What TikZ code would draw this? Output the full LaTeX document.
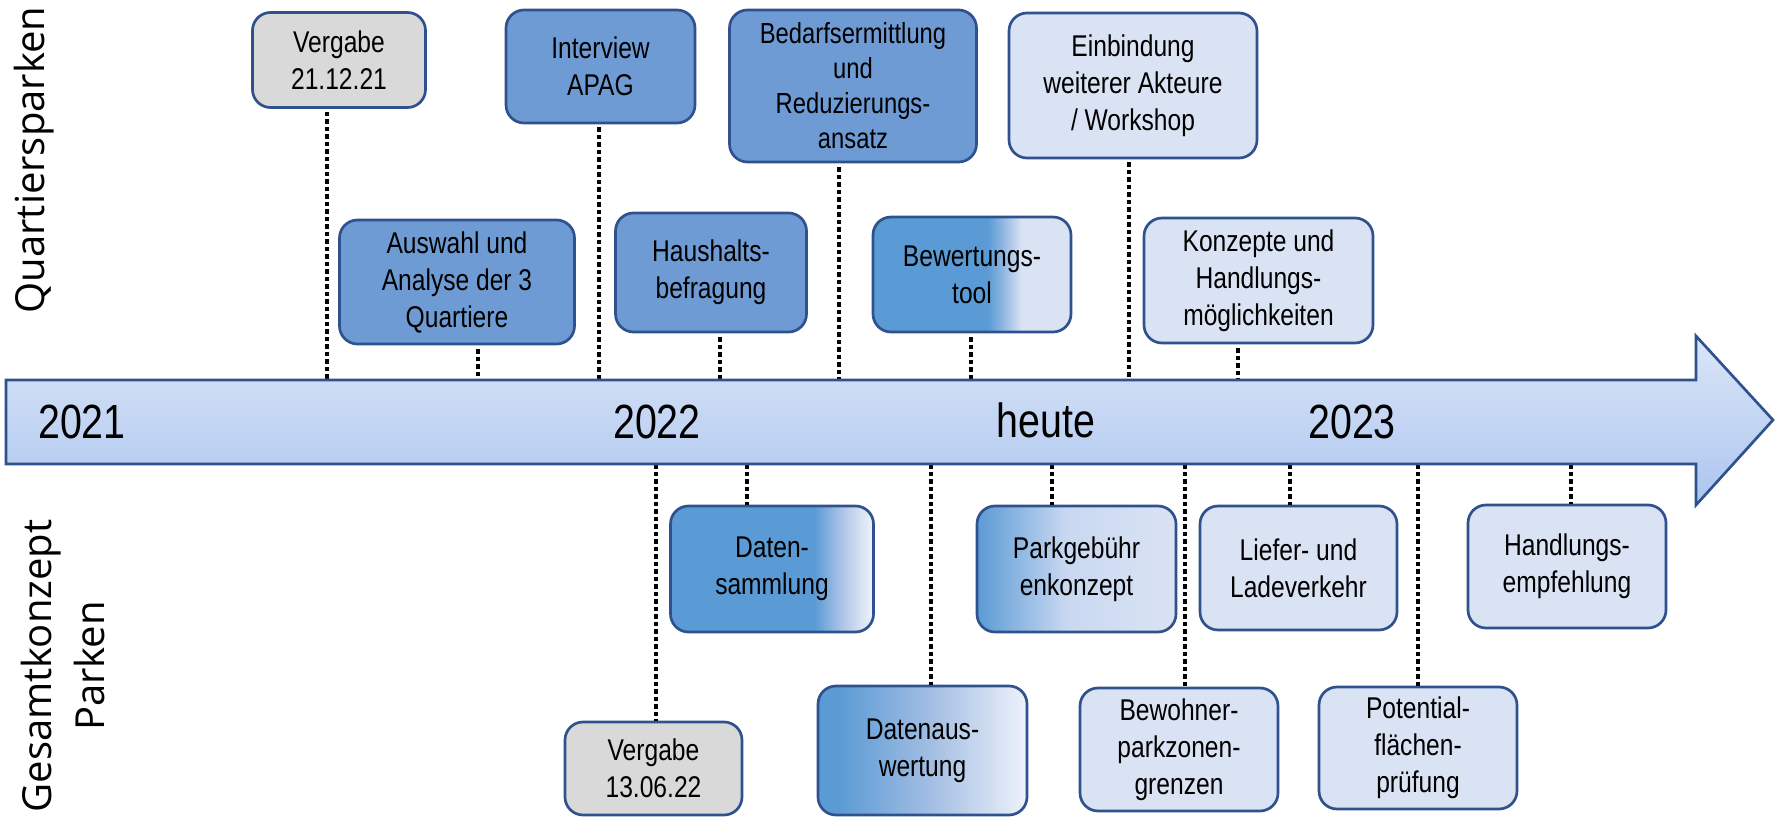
\documentclass[tikz,border=0pt]{standalone}
\usepackage{fontspec}
\setmainfont{Liberation Sans}[FakeStretch=0.82]
\newfontfamily\sidefont{Open Sans}
\definecolor{bdr}{HTML}{2F528F}
\definecolor{mblue}{HTML}{6E9BD3}
\definecolor{sblue}{HTML}{5B9BD5}
\definecolor{lblue}{HTML}{DAE3F3}
\definecolor{gbox}{HTML}{D9D9D9}
\definecolor{arrT}{HTML}{DBE6F7}
\definecolor{arrB}{HTML}{ACC5EF}
\definecolor{bewmid}{HTML}{93B8E2}
\definecolor{datmid}{HTML}{B0C6E8}
\definecolor{datend}{HTML}{F2F5FB}
\definecolor{dawmid}{HTML}{A5BFE3}
\definecolor{dawend}{HTML}{EEF2FA}
\definecolor{parkmid}{HTML}{C9D8F1}
\pgfdeclarehorizontalshading{bewshade}{100bp}{color(0bp)=(sblue); color(25bp)=(sblue); color(54bp)=(sblue); color(58bp)=(bewmid); color(62.5bp)=(lblue); color(100bp)=(lblue)}
\pgfdeclarehorizontalshading{datshade}{100bp}{color(0bp)=(sblue); color(25bp)=(sblue); color(60.5bp)=(sblue); color(67.5bp)=(datmid); color(75bp)=(datend); color(100bp)=(datend)}
\pgfdeclarehorizontalshading{dawshade}{100bp}{color(0bp)=(sblue); color(25bp)=(sblue); color(30bp)=(sblue); color(52.5bp)=(dawmid); color(75bp)=(dawend); color(100bp)=(dawend)}
\pgfdeclarehorizontalshading{parkshade}{100bp}{color(0bp)=(sblue); color(25bp)=(sblue); color(47.5bp)=(parkmid); color(75bp)=(lblue); color(100bp)=(lblue)}
\tikzset{
  tbox/.style={draw=bdr, line width=2.7pt, rounded corners=18pt, inner sep=0pt,
    align=center, font=\fontsize{30}{37}\selectfont, text=black},
  midbox/.style={tbox, fill=mblue},
  lightbox/.style={tbox, fill=lblue},
  graybox/.style={tbox, fill=gbox},
  dotline/.style={line width=4pt, dash pattern=on 4.5pt off 3pt, black},
  yearlbl/.style={font=\fontsize{48}{52}\selectfont, inner sep=0pt},
  sidelbl/.style={font=\sidefont\fontsize{40}{53}\selectfont, rotate=90, align=center, inner sep=0pt},
}
\begin{document}
\begin{tikzpicture}[x=1pt,y=-1pt]
\useasboundingbox (0,0) rectangle (1775,818);
% side labels
\node[sidelbl] (lq) at (34,160) {Quartiersparken};
\node[sidelbl] (lg) at (63,666) {Gesamtkonzept\\Parken};
% timeline arrow
\coordinate (atop) at (0,380);
\coordinate (abot) at (0,464);
% top boxes
\node[graybox, minimum width=173pt, minimum height=95pt] (v1) at (339,60) {Vergabe\\21.12.21};
\node[midbox, minimum width=235pt, minimum height=124pt] (ausw) at (457,282) {Auswahl und\\Analyse der 3\\Quartiere};
\node[midbox, minimum width=189pt, minimum height=113pt] (interv) at (600.5,66.5) {Interview\\APAG};
\node[midbox, minimum width=247pt, minimum height=152pt, font=\fontsize{29}{35}\selectfont] (bedarf) at (853,86) {Bedarfsermittlung\\und\\Reduzierungs-\\ansatz};
\node[lightbox, minimum width=248pt, minimum height=145pt] (einb) at (1133,85.5) {Einbindung\\weiterer Akteure\\/ Workshop};
\node[midbox, minimum width=191pt, minimum height=119pt] (haus) at (711,272.5) {Haushalts-\\befragung};
\node[tbox, shading=bewshade, shading angle=0, minimum width=198pt, minimum height=115pt] (bew) at (972,274.5) {Bewertungs-\\tool};
\node[lightbox, minimum width=229pt, minimum height=125pt] (konz) at (1258.5,280.5) {Konzepte und\\Handlungs-\\möglichkeiten};
% bottom boxes
\node[graybox, minimum width=177pt, minimum height=93pt] (v2) at (653.5,768.5) {Vergabe\\13.06.22};
\node[tbox, shading=datshade, shading angle=0, minimum width=203pt, minimum height=126pt] (daten) at (772,569) {Daten-\\sammlung};
\node[tbox, shading=dawshade, shading angle=0, minimum width=209pt, minimum height=129pt] (daw) at (922.5,750.5) {Datenaus-\\wertung};
\node[tbox, shading=parkshade, shading angle=0, minimum width=199pt, minimum height=126pt] (park) at (1076.5,569) {Parkgebühr\\enkonzept};
\node[lightbox, minimum width=198pt, minimum height=123pt] (bewohn) at (1179,749.5) {Bewohner-\\parkzonen-\\grenzen};
\node[lightbox, minimum width=197pt, minimum height=124pt] (liefer) at (1298.5,568) {Liefer- und\\Ladeverkehr};
\node[lightbox, minimum width=198pt, minimum height=122pt] (potent) at (1418,748) {Potential-\\flächen-\\prüfung};
\node[lightbox, minimum width=198pt, minimum height=123pt] (handl) at (1567,566.5) {Handlungs-\\empfehlung};
% dotted connectors (top)
\draw[dotline] (327,0 |- v1.south) ++(0,3) -- (327,0 |- atop);
\draw[dotline] (478,0 |- ausw.south) ++(0,4) -- (478,0 |- atop);
\draw[dotline] (599,0 |- interv.south) ++(0,3) -- (599,0 |- atop);
\draw[dotline] (839,0 |- bedarf.south) ++(0,4) -- (839,0 |- atop);
\draw[dotline] (1129,0 |- einb.south) ++(0,3) -- (1129,0 |- atop);
\draw[dotline] (720,0 |- haus.south) ++(0,4) -- (720,0 |- atop);
\draw[dotline] (971,0 |- bew.south) ++(0,4) -- (971,0 |- atop);
\draw[dotline] (1238,0 |- konz.south) ++(0,4) -- (1238,0 |- atop);
% dotted connectors (bottom)
\draw[dotline] (656,0 |- abot) -- (656,0 |- v2.north);
\draw[dotline] (747,0 |- abot) -- (747,0 |- daten.north);
\draw[dotline] (931,0 |- abot) -- (931,0 |- daw.north);
\draw[dotline] (1052,0 |- abot) -- (1052,0 |- park.north);
\draw[dotline] (1185,0 |- abot) -- (1185,0 |- bewohn.north);
\draw[dotline] (1290,0 |- abot) -- (1290,0 |- liefer.north);
\draw[dotline] (1418,0 |- abot) -- (1418,0 |- potent.north);
\draw[dotline] (1571,0 |- abot) -- (1571,0 |- handl.north);
% arrow
\path[draw=bdr, line width=2.7pt, line join=miter, top color=arrT, bottom color=arrB]
  (6,380) -- (1696,380) -- (1696,336) -- (1773,420) -- (1696,505) -- (1696,464) -- (6,464) -- cycle;
\node[yearlbl] (y21) at (82,422) {2021};
\node[yearlbl] (y22) at (657,422) {2022};
\node[yearlbl] (heute) at (1046,420) {heute};
\node[yearlbl] (y23) at (1352,422) {2023};
\end{tikzpicture}
\end{document}
